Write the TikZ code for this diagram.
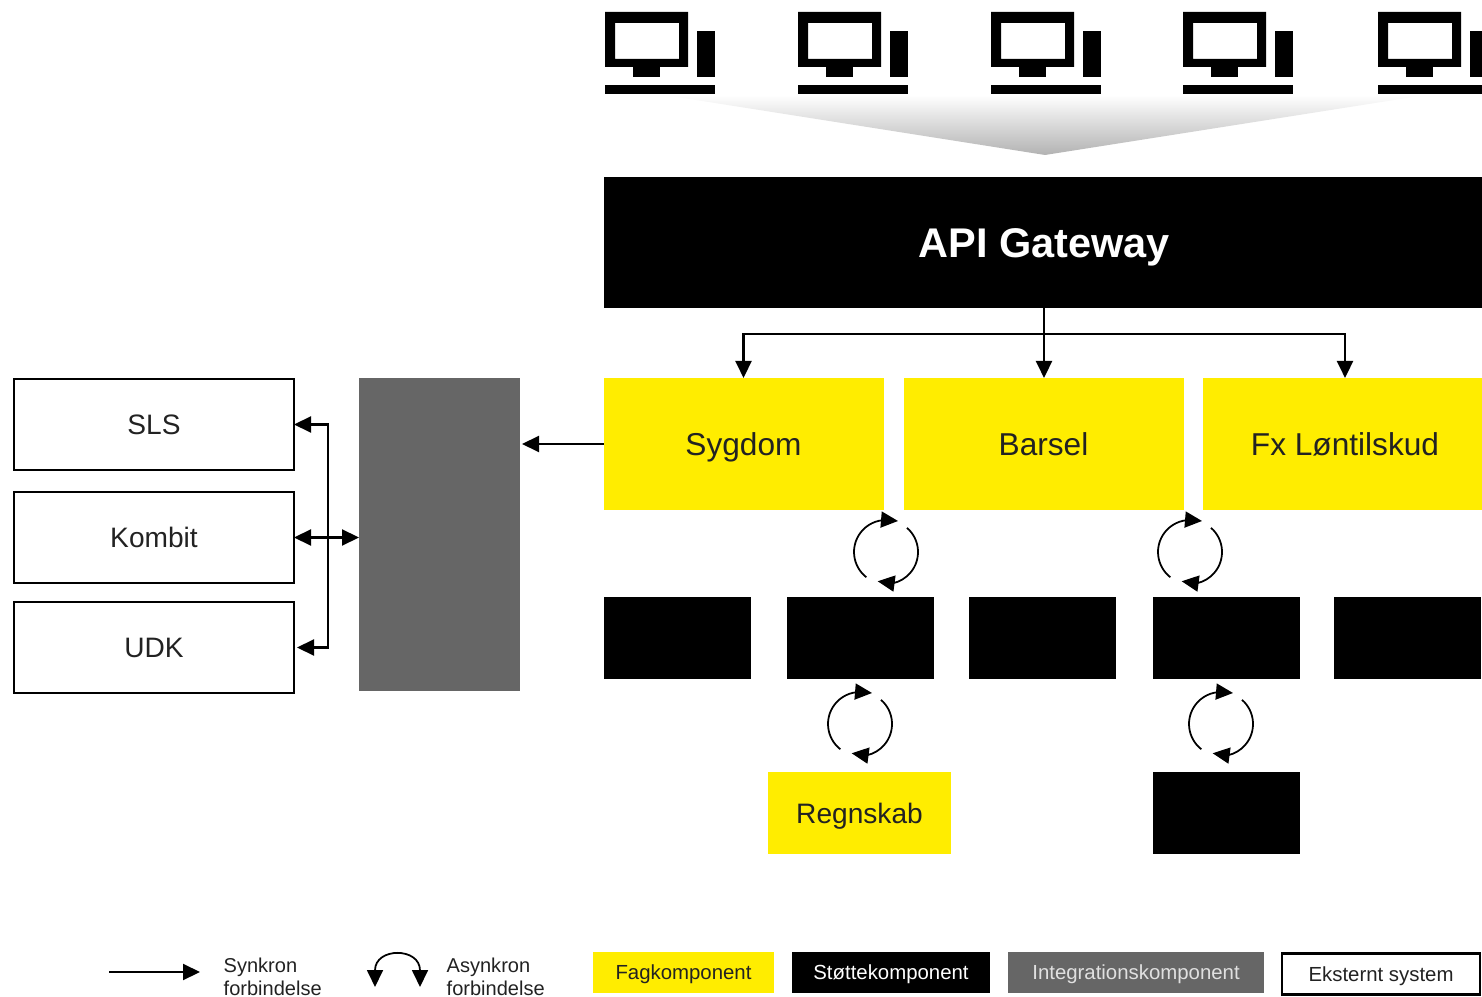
\documentclass[tikz,border=0pt]{standalone}
\usepackage{fontspec}
\setmainfont{Liberation Sans}
\usetikzlibrary{arrows.meta}
\definecolor{fagyellow}{HTML}{FFED00}
\definecolor{integgray}{HTML}{666666}
\definecolor{labeltext}{HTML}{222222}
\newcommand{\fsize}[1]{\fontsize{#1}{#1}\selectfont}
\tikzset{
	tip/.tip={Triangle[length=0.17cm, width=0.16cm]},
	box/.style={inner sep=0pt, outer sep=0pt, minimum width=#1, text depth=0pt},
	fag/.style={box=#1, fill=fagyellow, text=labeltext, font=\fsize{9}, text height=6.5pt},
	stotte/.style={box=1.47cm, minimum height=0.82cm, fill=black},
	ekstern/.style={box=2.80cm, minimum height=0.91cm, draw=black, line width=0.6pt, text=labeltext, font=\fsize{8}, text height=5.8pt},
	legendbox/.style={box=#1, minimum height=0.41cm, font=\fsize{5.8}, text height=4.2pt},
	legendtext/.style={inner sep=0pt, align=left, anchor=west, text=labeltext, font=\fsize{5.7}},
	conn/.style={line width=0.6pt, -tip},
	pc/.pic={
		\fill[even odd rule] (0,0) rectangle (0.83,-0.55) (0.10,-0.11) rectangle (0.74,-0.47);
		\fill (0.28,-0.55) rectangle (0.55,-0.65);
		\fill (0.92,-0.19) rectangle (1.10,-0.65);
		\fill (0,-0.73) rectangle (1.10,-0.82);
	},
	cycle/.pic={
		\draw[conn, line width=0.5pt] ([shift=(232:0.32cm)] 0,0) arc (232:90:0.32cm) -- ++(0.12,-0.01);
		\draw[conn, line width=0.5pt] ([shift=(49:0.32cm)] 0,0) arc (49:-78:0.32cm) -- ++(-0.15,0.02);
	}
}
\begin{document}
\begin{tikzpicture}
\useasboundingbox (0,0) rectangle (14.82,-9.97);
\clip (0,0) rectangle (14.82,-9.97);

\foreach \x in {6.05,7.98,9.91,11.83,13.78}
	\pic at (\x,-0.12) {pc};
\shade[top color=white, bottom color=black!30] (6.64,-0.95) -- (14.26,-0.95) -- (10.45,-1.55) -- cycle;

\node[box=8.80cm, minimum height=1.31cm, fill=black, text=white, font=\fsize{11.8}\bfseries, text height=8.5pt] (gateway) at (10.44,-2.425) {API Gateway};

\node[fag=2.80cm, minimum height=1.32cm] (sygdom) at (7.435,-4.44) {Sygdom};
\node[fag=2.80cm, minimum height=1.32cm] (barsel) at (10.435,-4.44) {Barsel};
\node[fag=2.84cm, minimum height=1.32cm] (fx) at (13.45,-4.44) {Fx Løntilskud};

\node[ekstern] (sls) at (1.54,-4.245) {SLS};
\node[ekstern] (kombit) at (1.54,-5.375) {Kombit};
\node[ekstern] (udk) at (1.54,-6.475) {UDK};
\node[box=1.61cm, minimum height=3.13cm, fill=integgray] (integ) at (4.395,-5.345) {};

\node[stotte] (stotteA) at (6.77,-6.38) {};
\node[stotte] (stotteB) at (8.605,-6.38) {};
\node[stotte] (stotteC) at (10.42,-6.38) {};
\node[stotte] (stotteD) at (12.26,-6.38) {};
\node[stotte] (stotteE) at (14.075,-6.38) {};
\node[stotte] (stotteF) at (12.26,-8.13) {};
\node[fag=1.83cm, minimum height=0.82cm, font=\fsize{8}, text height=5.8pt] (regnskab) at (8.595,-8.13) {Regnskab};

\draw[conn] (gateway.south) -- (gateway.south |- barsel.north);
\draw[conn] (gateway.south) -- ++(0,-0.26) -| (sygdom.north);
\draw[conn] (gateway.south) -- ++(0,-0.26) -| (13.45,-3.78);
\draw[conn] (sygdom.west) -- ([xshift=0.02cm] sygdom.west -| integ.east);

\coordinate (bus) at (3.28,-5.375);
\draw[conn] (bus) |- (sls.east);
\draw[conn] (bus) |- ([xshift=0.03cm] udk.east);
\draw[conn, tip-tip] (kombit.east) -- (kombit.east -| integ.west);

\pic at (8.86,-5.52) {cycle};
\pic at (11.90,-5.52) {cycle};
\pic at (8.60,-7.24) {cycle};
\pic at (12.21,-7.24) {cycle};

\coordinate (syncstart) at (1.09,-9.72);
\coordinate (syncend) at (2.00,-9.72);
\draw[conn] (syncstart) -- (syncend);
\node[legendtext] (synclabel) at (2.23,-9.765) {Synkron\\[0.03cm]forbindelse};
\coordinate (asyncstart) at (3.75,-9.87);
\coordinate (asyncend) at (4.20,-9.87);
\draw[line width=0.5pt, tip-tip] (asyncstart) .. controls (3.75,-9.47) and (4.20,-9.47) .. (asyncend);
\node[legendtext] (asynclabel) at (4.46,-9.765) {Asynkron\\[0.03cm]forbindelse};

\node[legendbox=1.81cm, fill=fagyellow, text=labeltext] (legfag) at (6.835,-9.725) {Fagkomponent};
\node[legendbox=1.98cm, fill=black, text=white] (legstotte) at (8.91,-9.725) {Støttekomponent};
\node[legendbox=2.56cm, fill=integgray, text=black!12] (leginteg) at (11.36,-9.725) {Integrationskomponent};
\node[legendbox=1.98cm, draw=black, line width=0.8pt, text=labeltext] (legekstern) at (13.81,-9.74) {Eksternt system};
\end{tikzpicture}
\end{document}
